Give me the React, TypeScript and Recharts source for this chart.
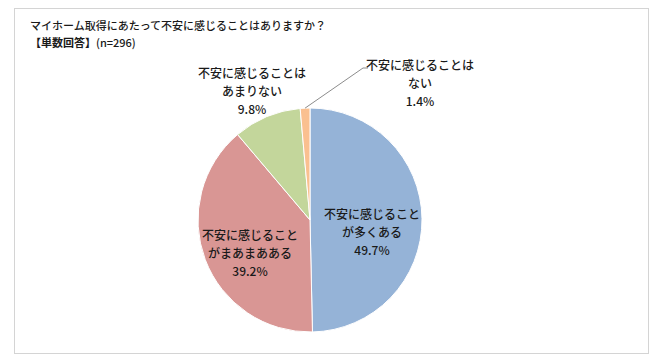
import React from "react";
import { PieChart, Pie, Cell } from "recharts";

const categories = [
  "不安に感じることが多くある",
  "不安に感じることがまあまあある",
  "不安に感じることはあまりない",
  "不安に感じることはない",
];
const labelLines: string[][] = [
  ["不安に感じること", "が多くある"],
  ["不安に感じること", "がまあまあある"],
  ["不安に感じることは", "あまりない"],
  ["不安に感じることは", "ない"],
];
const values = [49.7, 39.2, 9.8, 1.4];
const colors = ["#95B3D7", "#D99694", "#C3D69B", "#FAC090"];

const titleLine1 = "マイホーム取得にあたって不安に感じることはありますか？";
const titleBold = "【単数回答】";
const titleRest = "(n=296)";

// label anchor offsets relative to pie centre (layout only)
const labelOffsets: [number, number][] = [
  [62, 11],
  [-60, 32],
  [-58, -130],
  [110, -138],
];

const data = categories.map((name, i) => ({ name, value: values[i] }));

const FONT = "'Noto Sans CJK JP', 'Noto Sans', sans-serif";

const renderLabel = (props: any) => {
  const { cx, cy, index, midAngle, outerRadius, value } = props;
  const [dx, dy] = labelOffsets[index];
  const x = cx + dx;
  const y = cy + dy;
  const lines = [...labelLines[index], `${value.toFixed(1)}%`];
  const lh = 18;
  const RAD = Math.PI / 180;
  let leader: React.ReactNode = null;
  if (index === 3) {
    const sx = cx + outerRadius * Math.cos(-midAngle * RAD);
    const sy = cy + outerRadius * Math.sin(-midAngle * RAD);
    const ex = cx + 53;
    const ey = cy - 152;
    leader = (
      <polyline
        points={`${sx},${sy} ${ex},${ey} ${ex + 5},${ey}`}
        fill="none"
        stroke="#8c8c8c"
        strokeWidth={1}
      />
    );
  }
  return (
    <g>
      {leader}
      {lines.map((t, k) => (
        <text
          key={k}
          x={x}
          y={y + (k - 1) * lh}
          textAnchor="middle"
          dominantBaseline="central"
          fontSize={12}
          fontWeight={500}
          fontFamily={FONT}
          fill="#1a1a1a"
        >
          {t}
        </text>
      ))}
    </g>
  );
};

export default function App() {
  return (
    <div
      style={{
        position: "absolute",
        left: 0,
        top: 0,
        width: 663,
        height: 364,
        background: "#fff",
      }}
    >
      <div
        style={{
          position: "absolute",
          left: 14,
          top: 8,
          width: 635,
          height: 346,
          border: "1px solid #d4d4d4",
          boxSizing: "border-box",
        }}
      />
      <div
        style={{
          position: "absolute",
          left: 30,
          top: 17,
          fontFamily: FONT,
          fontSize: 11,
          fontWeight: 500,
          lineHeight: "17px",
          color: "#1a1a1a",
          whiteSpace: "nowrap",
        }}
      >
        <div>{titleLine1}</div>
        <div>
          <span style={{ fontWeight: "bold" }}>{titleBold}</span>
          {titleRest}
        </div>
      </div>
      <div style={{ position: "absolute", left: 0, top: 0 }}>
        <PieChart
          width={663}
          height={364}
          margin={{ top: 0, right: 0, bottom: 0, left: 0 }}
        >
          <Pie
            data={data}
            dataKey="value"
            nameKey="name"
            cx={310}
            cy={220}
            outerRadius={112}
            startAngle={90}
            endAngle={-270}
            stroke="#ffffff"
            strokeWidth={1}
            label={renderLabel}
            labelLine={false}
            isAnimationActive={false}
          >
            {data.map((d, i) => (
              <Cell key={d.name} fill={colors[i]} />
            ))}
          </Pie>
        </PieChart>
      </div>
    </div>
  );
}
